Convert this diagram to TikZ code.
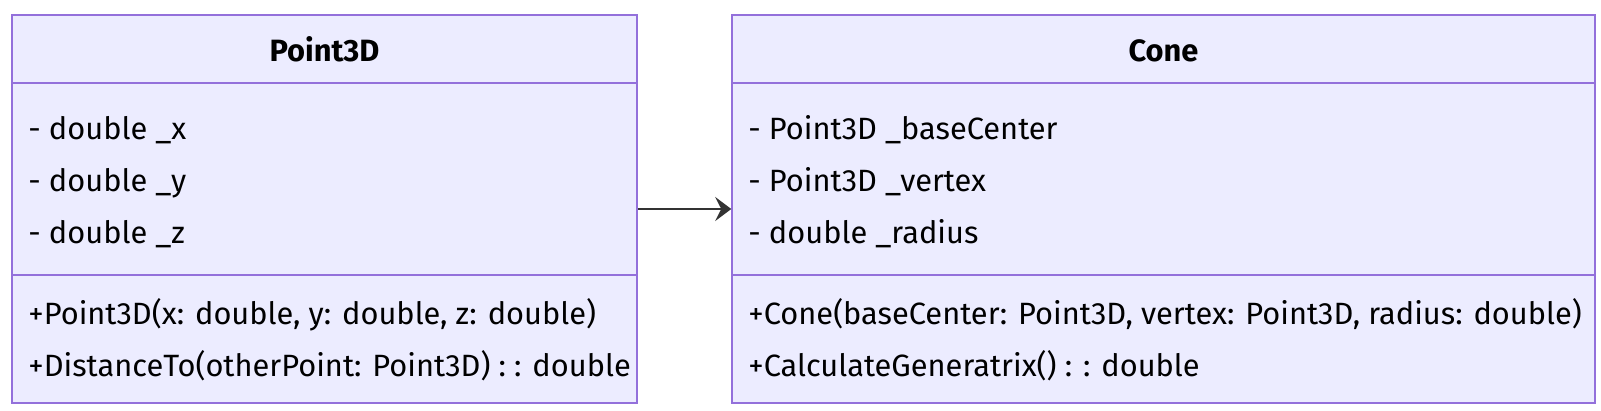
\documentclass[tikz,border=0pt]{standalone}
\usepackage{fontspec}
\setmainfont{Fira Sans}
\usepackage{xcolor}
\usepackage{tikz}
\usetikzlibrary{arrows.meta, positioning}

\definecolor{umlfill}{HTML}{ECECFF}
\definecolor{umlline}{HTML}{9370DB}
\definecolor{umlarrow}{HTML}{333333}

\begin{document}
\begin{tikzpicture}[
  x=0.5pt, y=-0.5pt,
  font=\fontsize{15.4}{18}\selectfont,
  classbox/.style={draw=umlline, fill=umlfill, line width=0.75pt, inner sep=0pt, minimum height=194pt},
  divider/.style={draw=umlline, line width=0.75pt},
  title/.style={anchor=base, font=\fontsize{15.4}{18}\selectfont\bfseries, inner sep=0pt},
  member/.style={anchor=base west, inner sep=0pt},
  arr/.style={-{Stealth[length=8pt, width=12pt, inset=3pt]}, line width=1pt, draw=umlarrow}
]
  \useasboundingbox (0,0) rectangle (1601,411);

  % Klasa Point3D
  \node[classbox, minimum width=312.5pt] (point) at (324.5, 209) {};
  \draw[divider] (12, 83) -- (637, 83);
  \draw[divider] (12, 275) -- (637, 275);
  \node[title] (ptitle) at (324.5, 62) {Point3D};
  \node[member] (px) at (28, 140) {- double \_x};
  \node[member] (py) at (28, 192) {- double \_y};
  \node[member] (pz) at (28, 244) {- double \_z};
  \node[member] (pctor) at (28, 324) {+Point3D(x: double, y: double, z: double)};
  \node[member] (pdist) at (28, 376) {+DistanceTo(otherPoint: Point3D) : : double};

  % Klasa Cone
  \node[classbox, minimum width=431.5pt] (cone) at (1163.5, 209) {};
  \draw[divider] (732, 83) -- (1595, 83);
  \draw[divider] (732, 275) -- (1595, 275);
  \node[title] (ctitle) at (1163.5, 62) {Cone};
  \node[member] (cbase) at (748, 140) {- Point3D \_baseCenter};
  \node[member] (cvert) at (748, 192) {- Point3D \_vertex};
  \node[member] (crad) at (748, 244) {- double \_radius};
  \node[member] (cctor) at (748, 324) {+Cone(baseCenter: Point3D, vertex: Point3D, radius: double)};
  \node[member] (cgen) at (748, 376) {+CalculateGeneratrix() : : double};

  % Poveznica
  \draw[arr] (point) -- (cone);
\end{tikzpicture}
\end{document}
